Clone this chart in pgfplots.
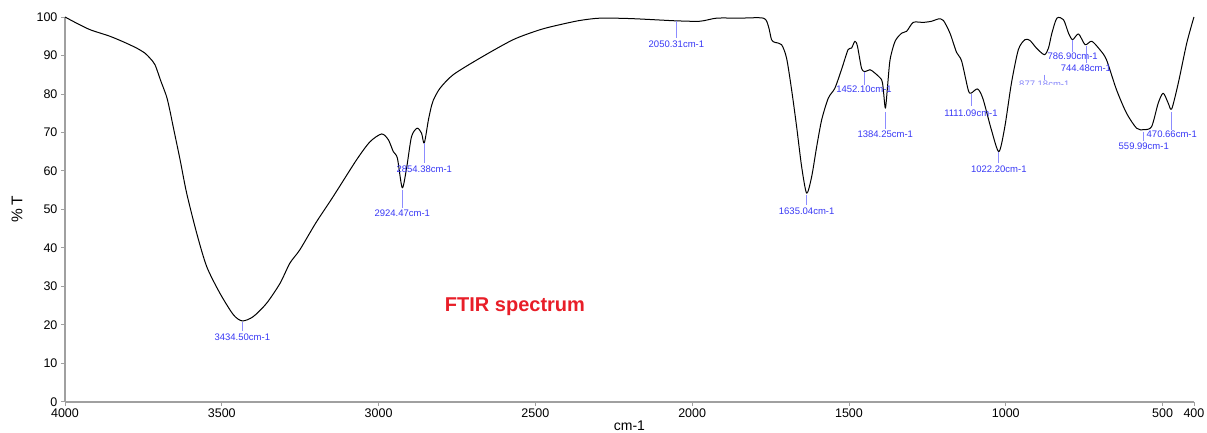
\documentclass[border=0pt]{standalone}
\usepackage{fontspec}
\setmainfont{Liberation Sans}
\usepackage{pgfplots}
\pgfplotsset{compat=1.18}

\definecolor{peakblue}{RGB}{55,55,245}
\definecolor{peakline}{RGB}{140,140,255}
\definecolor{titlered}{RGB}{232,30,40}
\definecolor{axgray}{RGB}{160,160,160}

% peak: wavenumber, line top, line bottom, label centre y, text
\newcommand{\peak}[5]{%
  \draw[peakline, line width=0.8pt] (axis cs:#1,#2) -- (axis cs:#1,#3);
  \node[text=peakblue, font=\fontsize{9.5}{11}\selectfont, inner sep=0pt]
    at (axis cs:#1,#4) {#5};}

\begin{document}
\begin{tikzpicture}
\useasboundingbox (-65pt,-30.3pt) rectangle (1142pt,401.7pt);
\begin{axis}[
    scale only axis,
    width=1129pt, height=384.7pt,
    x dir=reverse,
    xmin=400, xmax=4000,
    ymin=0, ymax=100,
    axis x line*=bottom,
    axis y line*=left,
    axis line style={axgray, line width=1.6pt},
    xtick={4000,3500,3000,2500,2000,1500,1000,500,400},
    ytick={0,10,20,30,40,50,60,70,80,90,100},
    tick align=outside,
    major tick length=4pt,
    tick style={axgray, line width=0.8pt},
    xticklabel style={/pgf/number format/1000 sep={}},
    /pgf/number format/assume math mode=true,
    ticklabel style={font=\fontsize{12.5}{14}\selectfont},
    xlabel={cm-1},
    ylabel={\%\,T},
    xlabel style={font=\fontsize{14}{16}\selectfont, at={(axis description cs:0.5,-0.063)}, anchor=center},
    ylabel style={font=\fontsize{15.5}{17}\selectfont, at={(axis description cs:-0.0425,0.5)}, anchor=center},
    clip=false,
]
\addplot[black, line width=1pt, line join=round, mark=none, smooth, tension=0.45] coordinates {
(4000,100) (3963,98.4) (3920,96.7) (3857,95.0) (3810,93.4) (3771,91.9)
(3745,90.6) (3729,89.3) (3713,87.6) (3695,83.5) (3676,79.3) (3665,75.5)
(3655,71.5) (3633,62.9) (3612,54.2) (3580,43.8) (3548,35.1) (3506,28.2)
(3463,22.6) (3434.5,21.0) (3400,22.1) (3357,25.6) (3314,30.8) (3283,36.0)
(3251,39.5) (3200,46.5) (3145,53.3) (3070,62.9) (3027,67.6) (2990,69.6)
(2969,68.1) (2953,65.0) (2940,63.3) (2924.5,55.6) (2910,61.1) (2895,68.9)
(2877,71.1) (2863,69.8) (2854.4,67.2) (2841,73.3) (2831,77.0) (2825,78.5)
(2804,81.5) (2762,85.0) (2677,89.3) (2571,94.1) (2485,96.7) (2422,98.0)
(2358,99.1) (2294,99.7) (2200,99.6) (2100,99.2) (2050,99.0) (1975,98.9)
(1922,99.7) (1850,99.7) (1773,99.7) (1757,97.6) (1747,94.1) (1736,93.4)
(1715,92.8) (1699,89.3) (1683,81.1) (1667,71.5) (1651,61.1) (1635,54.2)
(1619,58.5) (1603,66.3) (1587,73.3) (1566,78.9) (1545,81.5) (1524,86.3)
(1503,91.5) (1492,91.9) (1481,93.7) (1473,92.4) (1460,86.7) (1449,85.8)
(1433,86.3) (1417,85.4) (1396,83.7) (1391,81.5) (1384,76.3) (1377,82.0)
(1369,88.9) (1353,93.7) (1332,95.8) (1316,96.3) (1295,98.6) (1263,98.6)
(1236,98.9) (1215,99.5) (1199,99.1) (1178,95.8) (1157,90.8) (1141,88.6)
(1120,81.1) (1111,80.2) (1090,81.3) (1073,78.8) (1046,70.7) (1022,65.0)
(1003,71.5) (982,82.8) (960,91.5) (939,94.1) (923,93.9) (902,91.9)
(877,90.2) (864,91.9) (853,95.8) (837,99.7) (816,99.3) (800,95.8)
(787,94.1) (768,95.6) (747,92.8) (726,93.7) (700,91.5) (679,88.9)
(647,81.1) (615,75.0) (583,71.1) (560,70.7) (535,71.5) (514,77.6)
(498,80.2) (482,77.6) (471,76.1) (450,82.8) (423,93.2) (400,100)
};

\peak{3434.5}{20.7}{18.4}{16.8}{3434.50cm-1}
\peak{2924.47}{55.1}{50.4}{49.1}{2924.47cm-1}
\peak{2854.38}{67.3}{62.1}{60.3}{2854.38cm-1}
\peak{2050.31}{99.0}{94.6}{93.0}{2050.31cm-1}
\peak{1635.04}{53.8}{51.2}{49.6}{1635.04cm-1}
\peak{1452.10}{85.8}{82.4}{81.1}{1452.10cm-1}
\peak{1384.25}{75.3}{70.8}{69.4}{1384.25cm-1}
\peak{1111.09}{80.0}{76.9}{75.1}{1111.09cm-1}
\peak{1022.20}{65.0}{62.1}{60.5}{1022.20cm-1}
\peak{786.90}{94.1}{91.0}{89.7}{786.90cm-1}
\peak{744.48}{92.5}{88.1}{86.8}{744.48cm-1}
\peak{559.99}{70.2}{67.8}{66.3}{559.99cm-1}
\peak{470.66}{75.3}{70.6}{69.4}{470.66cm-1}
% partly hidden label
\draw[peakline, line width=0.8pt] (axis cs:877.18,85.0) -- (axis cs:877.18,83.7);
\begin{scope}
\clip (axis cs:960,83.8) rectangle (axis cs:780,82.4);
\node[text=peakblue!60, font=\fontsize{9.5}{11}\selectfont, inner sep=0pt]
  at (axis cs:877.18,82.4) {877.18cm-1};
\end{scope}

\node[text=titlered, font=\fontsize{20}{24}\selectfont\bfseries]
  at (axis cs:2565,24.6) {FTIR spectrum};
\end{axis}
\end{tikzpicture}
\end{document}
